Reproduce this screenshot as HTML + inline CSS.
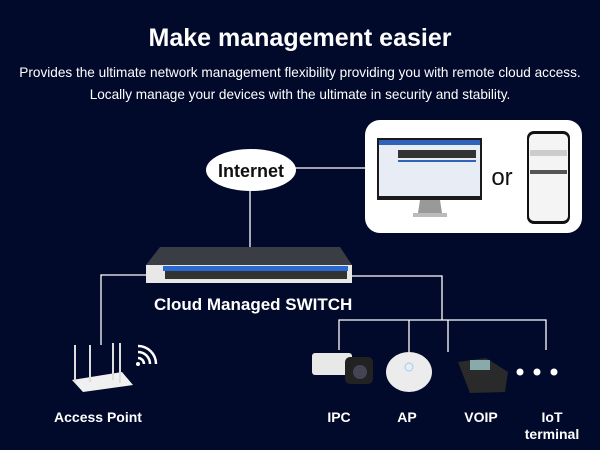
<!DOCTYPE html>
<html><head><meta charset="utf-8"><style>
body{margin:0;width:600px;height:450px;background:#020a2b;font-family:"Liberation Sans",sans-serif;color:#fff;overflow:hidden;position:relative}
.t{position:absolute;white-space:nowrap}
</style></head><body>
<div class="t" style="left:0;width:600px;text-align:center;top:24px;font-size:25px;font-weight:bold">Make management easier</div>
<div class="t" style="left:0;width:600px;text-align:center;top:65px;font-size:13.6px">Provides the ultimate network management flexibility providing you with remote cloud access.</div>
<div class="t" style="left:0;width:600px;text-align:center;top:87px;font-size:13.6px">Locally manage your devices with the ultimate in security and stability.</div>
<svg width="600" height="450" style="position:absolute;left:0;top:0">
<g stroke="#fff" stroke-width="1.3" fill="none">
<line x1="295" y1="168" x2="366" y2="168"/>
<line x1="250" y1="190" x2="250" y2="248"/>
<polyline points="146,275 101,275 101,345"/>
<polyline points="352,276 442,276 442,320"/>
<polyline points="339,350 339,320 546,320 546,350"/>
<line x1="409" y1="320" x2="409" y2="352"/>
<line x1="448" y1="320" x2="448" y2="352"/>
</g>
<ellipse cx="251" cy="170" rx="45" ry="21" fill="#fff"/>
<text x="251" y="177" text-anchor="middle" font-size="18" font-weight="bold" fill="#111" font-family="Liberation Sans">Internet</text>
<rect x="365" y="120" width="217" height="113" rx="15" fill="#fff"/>
<rect x="377" y="138" width="105" height="62" fill="#1a1a1a"/>
<rect x="379" y="140" width="101" height="56" fill="#e8ecf4"/>
<rect x="379" y="140" width="101" height="5" fill="#2f62b8"/>
<rect x="398" y="150" width="78" height="8" fill="#333"/>
<rect x="398" y="160" width="78" height="2" fill="#2f62b8"/>
<polygon points="420,200 440,200 442,213 418,213" fill="#999"/>
<rect x="413" y="213" width="34" height="4" fill="#bbb"/>
<text x="502" y="185" text-anchor="middle" font-size="24" fill="#111" font-family="Liberation Sans">or</text>
<rect x="527" y="131" width="43" height="93" rx="7" fill="#111"/>
<rect x="529" y="134" width="39" height="87" rx="5" fill="#f4f4f4"/>
<rect x="530" y="150" width="37" height="6" fill="#ccc"/>
<rect x="530" y="170" width="37" height="4" fill="#555"/>
<polygon points="160,247 340,247 352,265 146,265" fill="#3a3d44"/>
<rect x="146" y="265" width="206" height="18" fill="#e8e8e8"/>
<rect x="163" y="266" width="185" height="5" fill="#2a6ad0"/>
<rect x="165" y="271" width="182" height="8" fill="#333"/>
<g fill="#fff"><circle cx="520" cy="372" r="3.5"/><circle cx="537" cy="372" r="3.5"/><circle cx="554" cy="372" r="3.5"/></g>
<polygon points="72,380 122,372 133,385 83,392" fill="#f0f0f0"/>
<g stroke="#ddd" stroke-width="2"><line x1="75" y1="345" x2="75" y2="382"/><line x1="90" y1="345" x2="90" y2="382"/><line x1="113" y1="343" x2="113" y2="380"/><line x1="120" y1="343" x2="120" y2="383"/></g>
<g stroke="#fff" stroke-width="2.5" fill="none"><path d="M138,358 a6,6 0 0 1 6,6"/><path d="M138,352 a12,12 0 0 1 12,12"/><path d="M138,346 a18,18 0 0 1 18,18"/></g>
<circle cx="138" cy="364" r="2" fill="#fff"/>
<rect x="312" y="353" width="40" height="22" rx="3" fill="#e8e8e8"/>
<rect x="345" y="357" width="28" height="27" rx="5" fill="#222"/>
<circle cx="360" cy="372" r="7" fill="#445"/>
<ellipse cx="409" cy="372" rx="23" ry="20" fill="#ececec"/>
<circle cx="409" cy="367" r="4" fill="none" stroke="#9cf" stroke-width="1"/>
<polygon points="458,362 486,358 508,372 505,392 470,393" fill="#2a2a2a"/>
<rect x="470" y="360" width="20" height="10" fill="#8aa"/>
</svg>
<div class="t" style="left:154px;top:295px;font-size:17px;font-weight:bold">Cloud Managed SWITCH</div>
<div class="t" style="left:98px;transform:translateX(-50%);top:409px;font-size:14px;font-weight:bold">Access Point</div>
<div class="t" style="left:339px;transform:translateX(-50%);top:409px;font-size:14px;font-weight:bold">IPC</div>
<div class="t" style="left:407px;transform:translateX(-50%);top:409px;font-size:14px;font-weight:bold">AP</div>
<div class="t" style="left:481px;transform:translateX(-50%);top:409px;font-size:14px;font-weight:bold">VOIP</div>
<div class="t" style="left:552px;transform:translateX(-50%);top:409px;font-size:14px;font-weight:bold;text-align:center;line-height:17px">IoT<br>terminal</div>
</body></html>
